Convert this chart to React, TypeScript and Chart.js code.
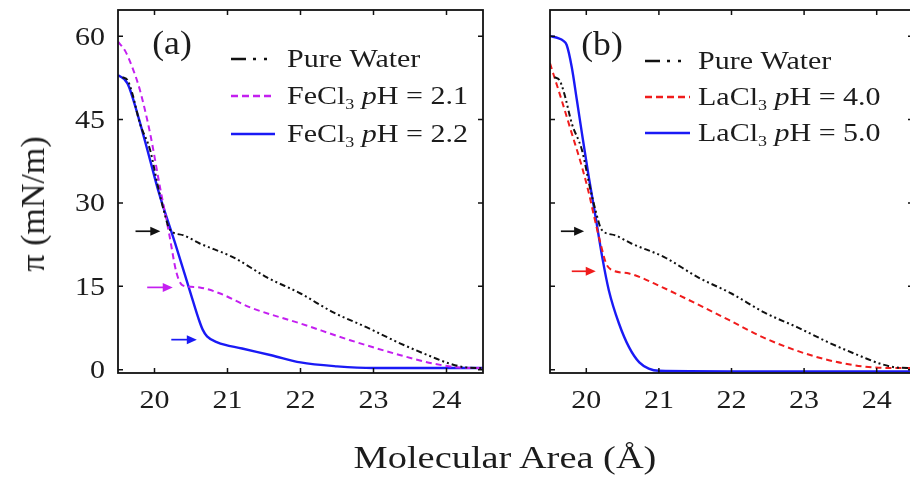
import React, { useEffect, useRef } from 'react';
import { Chart, registerables } from 'chart.js';
Chart.register(...registerables);

// ---- axes ----
const xTicks = [20, 21, 22, 23, 24];
const yTicks = [0, 15, 30, 45, 60];
const xMin = 19.5, xMax = 24.5, yMin = -0.6, yMax = 64.7;

// ---- Pure water (both panels) ----
const waterX = [19.56, 19.63, 19.7, 19.8, 19.94, 20.05, 20.13, 20.21, 20.39, 20.62, 21.08, 21.54, 22.0, 22.45, 22.91, 23.37, 23.82, 24.04, 24.27, 24.5];
const waterY = [52.6, 52.1, 49.5, 44.3, 39.5, 32.8, 28.5, 25.2, 24.2, 22.7, 20.2, 16.6, 13.7, 10.3, 7.6, 4.7, 2.2, 1.1, 0.4, 0.3];

// ---- Panel (a) ----
const fe21X = [19.5, 19.6, 19.71, 19.8, 19.94, 20.08, 20.2, 20.3, 20.38, 20.5, 20.62, 20.9, 21.31, 22.0, 22.68, 23.37, 23.82, 24.28, 24.5];
const fe21Y = [59.0, 57.3, 53.9, 50.3, 42.5, 32.5, 24.5, 17.5, 15.2, 14.9, 14.8, 13.7, 11.2, 8.3, 5.3, 2.6, 1.1, 0.3, 0.3];
const fe22X = [19.5, 19.63, 19.78, 19.94, 20.05, 20.3, 20.5, 20.6, 20.66, 20.72, 20.86, 21.2, 21.6, 22.0, 22.5, 23.0, 24.5];
const fe22Y = [53.0, 51.5, 45.4, 37.7, 32.3, 22.0, 13.5, 9.3, 7.2, 6.0, 4.9, 3.8, 2.6, 1.3, 0.6, 0.3, 0.3];

// ---- Panel (b) ----
const la40X = [19.5, 19.66, 19.8, 19.94, 20.04, 20.1, 20.2, 20.27, 20.34, 20.59, 21.05, 21.51, 21.97, 22.42, 22.88, 23.34, 23.8, 24.2, 24.5];
const la40Y = [55.1, 48.5, 42.5, 36.5, 31.5, 28.0, 22.5, 19.2, 18.0, 17.3, 14.8, 11.9, 8.9, 5.9, 3.5, 1.7, 0.6, 0.3, 0.3];
const la50X = [19.5, 19.62, 19.68, 19.73, 19.8, 19.87, 19.94, 20.03, 20.13, 20.22, 20.31, 20.45, 20.59, 20.73, 20.86, 21.0, 22.0, 23.0, 24.5];
const la50Y = [60.0, 59.6, 59.2, 58.4, 54.4, 48.5, 42.5, 35.0, 27.3, 20.2, 14.3, 8.3, 4.0, 1.3, 0.2, -0.2, -0.3, -0.3, -0.3];

// ---- arrows [x0, x1, y] ----
const arrowsAX0 = [19.74, 19.9, 20.23];
const arrowsAX1 = [20.08, 20.25, 20.58];
const arrowsAY = [24.9, 14.8, 5.4];
const arrowsBX0 = [19.65, 19.8];
const arrowsBX1 = [19.97, 20.13];
const arrowsBY = [24.9, 17.7];

// ---- labels ----
const panelLabels = ['(a)', '(b)'];
const legendA = [
  [{ t: 'Pure Water' }],
  [{ t: 'FeCl' }, { t: '3', sub: true }, { t: ' ' }, { t: 'p', it: true }, { t: 'H = 2.1' }],
  [{ t: 'FeCl' }, { t: '3', sub: true }, { t: ' ' }, { t: 'p', it: true }, { t: 'H = 2.2' }],
];
const legendB = [
  [{ t: 'Pure Water' }],
  [{ t: 'LaCl' }, { t: '3', sub: true }, { t: ' ' }, { t: 'p', it: true }, { t: 'H = 4.0' }],
  [{ t: 'LaCl' }, { t: '3', sub: true }, { t: ' ' }, { t: 'p', it: true }, { t: 'H = 5.0' }],
];

const BLACK = '#111111';
const MAGENTA = '#c41ff0';
const BLUE = '#1a1af5';
const RED = '#f01c1c';
const TEXT = '#1c1c1c';
const FONT = '"Liberation Serif", "Times New Roman", serif';
const SX = 1.2;

const DASH_WATER = [6, 3, 2, 3, 2, 3];
const DASH_DASHED = [6, 4];
const LEG_DASH_WATER = [15, 7, 3, 8, 3, 100];
const LEG_DASH_DASHED = [7, 4];

type Seg = { t: string; sub?: boolean; it?: boolean };

function drawRich(ctx: CanvasRenderingContext2D, segs: Seg[], x: number, y: number, size: number, sx: number) {
  ctx.save();
  ctx.translate(x, y);
  ctx.scale(sx, 1);
  ctx.fillStyle = TEXT;
  ctx.textAlign = 'left';
  ctx.textBaseline = 'alphabetic';
  let cx = 0;
  for (const s of segs) {
    const fs = s.sub ? size * 0.6 : size;
    ctx.font = `${s.it ? 'italic ' : ''}${fs}px ${FONT}`;
    ctx.fillText(s.t, cx, s.sub ? size * 0.22 : 0);
    cx += ctx.measureText(s.t).width;
  }
  ctx.restore();
}

function drawText(ctx: CanvasRenderingContext2D, t: string, x: number, y: number, size: number, align: CanvasTextAlign, sx: number) {
  ctx.save();
  ctx.translate(x, y);
  ctx.scale(sx, 1);
  ctx.fillStyle = TEXT;
  ctx.font = `${size}px ${FONT}`;
  ctx.textAlign = align;
  ctx.textBaseline = 'alphabetic';
  ctx.fillText(t, 0, 0);
  ctx.restore();
}

const framePlugin = {
  id: 'frame',
  afterDatasetsDraw(chart: any, _args: any, opts: any) {
    const ctx: CanvasRenderingContext2D = chart.ctx;
    const { left, right, top, bottom } = chart.chartArea;
    const xs = chart.scales.x;
    const ys = chart.scales.y;
    ctx.save();
    // arrows
    for (let i = 0; i < opts.ax0.length; i++) {
      const x0 = xs.getPixelForValue(opts.ax0[i]);
      const x1 = xs.getPixelForValue(opts.ax1[i]);
      const y = ys.getPixelForValue(opts.ay[i]);
      const c = opts.acol[i];
      ctx.strokeStyle = c;
      ctx.fillStyle = c;
      ctx.lineWidth = 1.7;
      ctx.setLineDash([]);
      ctx.beginPath();
      ctx.moveTo(x0, y);
      ctx.lineTo(x1 - 6, y);
      ctx.stroke();
      ctx.beginPath();
      ctx.moveTo(x1, y);
      ctx.lineTo(x1 - 10, y - 4.5);
      ctx.lineTo(x1 - 10, y + 4.5);
      ctx.closePath();
      ctx.fill();
    }
    // frame
    ctx.strokeStyle = BLACK;
    ctx.lineWidth = 1.8;
    ctx.setLineDash([]);
    ctx.strokeRect(left, top, right - left, bottom - top);
    // ticks (inward, all four sides)
    ctx.lineWidth = 1.5;
    ctx.beginPath();
    for (const v of xTicks) {
      const px = xs.getPixelForValue(v);
      ctx.moveTo(px, bottom);
      ctx.lineTo(px, bottom - 5);
      ctx.moveTo(px, top);
      ctx.lineTo(px, top + 5);
    }
    for (const v of yTicks) {
      const py = ys.getPixelForValue(v);
      ctx.moveTo(left, py);
      ctx.lineTo(left + 5, py);
      ctx.moveTo(right, py);
      ctx.lineTo(right - 5, py);
    }
    ctx.stroke();
    // tick labels
    for (const v of xTicks) {
      drawText(ctx, String(v), xs.getPixelForValue(v), 408, 25, 'center', SX);
    }
    if (opts.yLabels) {
      for (const v of yTicks) {
        drawText(ctx, String(v), left - 13, ys.getPixelForValue(v) + 8.5, 25, 'right', SX);
      }
    }
    // panel label
    drawText(ctx, opts.label, left + opts.labelDx, opts.labelY, 33, 'center', 1.08);
    // legend
    for (let i = 0; i < opts.legend.length; i++) {
      const ly = opts.legendY[i];
      ctx.strokeStyle = opts.legendCol[i];
      ctx.lineWidth = opts.legendW[i];
      ctx.setLineDash(opts.legendDash[i]);
      ctx.beginPath();
      ctx.moveTo(left + opts.lx0, ly);
      ctx.lineTo(left + opts.lx1, ly);
      ctx.stroke();
      ctx.setLineDash([]);
      drawRich(ctx, opts.legend[i], left + opts.tx, ly + 7.5, 25, SX);
    }
    ctx.restore();
  },
};

function series(xs: number[], ys: number[], color: string, width: number, dash: number[]) {
  return {
    data: xs.map((x, i) => ({ x, y: ys[i] })),
    borderColor: color,
    borderWidth: width,
    borderDash: dash,
    cubicInterpolationMode: 'monotone' as const,
    pointRadius: 0,
    fill: false,
  };
}

function makeConfig(datasets: any[], frame: any, padLeft: number) {
  return {
    type: 'line' as const,
    data: { datasets },
    options: {
      animation: false as const,
      responsive: false,
      devicePixelRatio: 1,
      layout: { padding: { left: padLeft, right: 17, top: 10, bottom: 107 } },
      scales: {
        x: { type: 'linear' as const, min: xMin, max: xMax, display: false },
        y: { type: 'linear' as const, min: yMin, max: yMax, display: false },
      },
      plugins: { legend: { display: false }, tooltip: { enabled: false }, frame },
    },
    plugins: [framePlugin],
  };
}

export default function App() {
  const refA = useRef<HTMLCanvasElement>(null);
  const refB = useRef<HTMLCanvasElement>(null);
  useEffect(() => {
    const cfgA = makeConfig(
      [
        series(waterX, waterY, BLACK, 2, DASH_WATER),
        series(fe21X, fe21Y, MAGENTA, 2, DASH_DASHED),
        series(fe22X, fe22Y, BLUE, 2.4, []),
      ],
      {
        ax0: arrowsAX0, ax1: arrowsAX1, ay: arrowsAY, acol: [BLACK, MAGENTA, BLUE],
        yLabels: true, label: panelLabels[0], labelDx: 54, labelY: 54,
        legend: legendA, legendY: [59, 96, 134], legendCol: [BLACK, MAGENTA, BLUE],
        legendW: [2.4, 2.4, 2.6], legendDash: [LEG_DASH_WATER, LEG_DASH_DASHED, []],
        lx0: 113, lx1: 157, tx: 169,
      },
      118,
    );
    const cfgB = makeConfig(
      [
        series(waterX, waterY, BLACK, 2, DASH_WATER),
        series(la40X, la40Y, RED, 2, DASH_DASHED),
        series(la50X, la50Y, BLUE, 2.4, []),
      ],
      {
        ax0: arrowsBX0, ax1: arrowsBX1, ay: arrowsBY, acol: [BLACK, RED],
        yLabels: false, label: panelLabels[1], labelDx: 52, labelY: 55,
        legend: legendB, legendY: [61, 97, 133], legendCol: [BLACK, RED, BLUE],
        legendW: [2.4, 2.4, 2.6], legendDash: [LEG_DASH_WATER, LEG_DASH_DASHED, []],
        lx0: 95, lx1: 140, tx: 148,
      },
      50,
    );
    const a = new Chart(refA.current as HTMLCanvasElement, cfgA as any);
    const b = new Chart(refB.current as HTMLCanvasElement, cfgB as any);
    return () => {
      a.destroy();
      b.destroy();
    };
  }, []);

  return (
    <div
      style={{
        position: 'absolute', left: 0, top: 0, width: 910, height: 480, overflow: 'hidden',
        background: '#ffffff', fontFamily: FONT, color: TEXT,
      }}
    >
      <canvas ref={refA} width={500} height={480} style={{ position: 'absolute', left: 0, top: 0, width: 500, height: 480 }} />
      <canvas ref={refB} width={430} height={480} style={{ position: 'absolute', left: 500, top: 0, width: 430, height: 480 }} />
      <div
        style={{
          position: 'absolute', left: 505, top: 441, fontSize: 32, lineHeight: '32px', whiteSpace: 'nowrap',
          transform: 'translateX(-50%) scaleX(1.2)',
        }}
      >
        Molecular Area (Å)
      </div>
      <div
        style={{
          position: 'absolute', left: 33, top: 204, fontSize: 34, lineHeight: '34px', whiteSpace: 'nowrap',
          transform: 'translate(-50%, -50%) rotate(-90deg)',
        }}
      >
        π (mN/m)
      </div>
    </div>
  );
}
